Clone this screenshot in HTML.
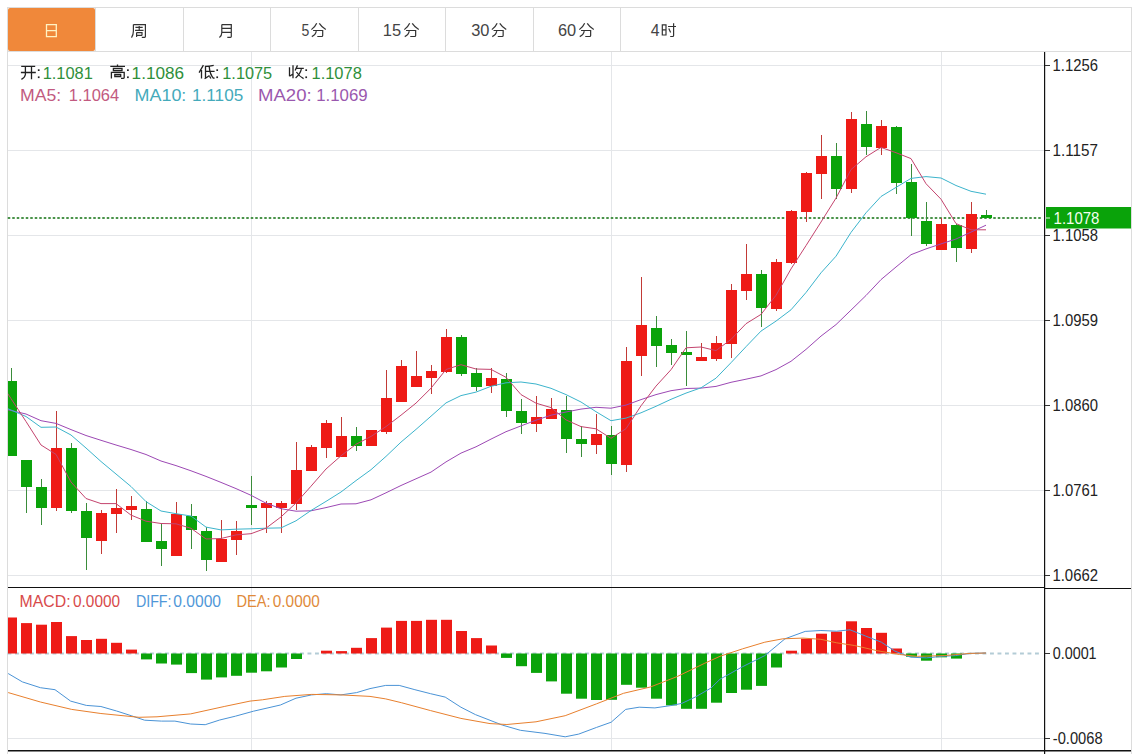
<!DOCTYPE html>
<html><head><meta charset="utf-8"><style>
html,body{margin:0;padding:0;background:#fff;width:1141px;height:754px;overflow:hidden;position:relative;font-family:"Liberation Sans",sans-serif;}
.frame{position:absolute;left:7px;top:7px;width:1125px;height:760px;border-left:1px solid #dcdcdc;border-right:1px solid #dcdcdc;border-top:1px solid #dcdcdc;box-sizing:border-box;}
.tabbar{position:absolute;left:7px;top:51px;width:1125px;height:1px;background:#dcdcdc;}
.tabon{position:absolute;left:8px;top:8px;width:87px;height:42.5px;background:#f0883a;border-radius:2px;}
.tdiv{position:absolute;top:8px;width:1px;height:43px;background:#dcdcdc;}
.inf{font-family:"Liberation Sans",sans-serif;font-size:16px;}
.tb{font-family:"Liberation Sans",sans-serif;font-size:16px;}
svg{position:absolute;left:0;top:0;}
.ax{font-family:"Liberation Sans",sans-serif;font-size:16.5px;}
</style></head><body>
<div class="frame"></div>
<div class="tabbar"></div>
<div class="tabon"></div><div class="tdiv" style="left:95.0px"></div><div class="tdiv" style="left:182.5px"></div><div class="tdiv" style="left:270.0px"></div><div class="tdiv" style="left:357.5px"></div><div class="tdiv" style="left:445.0px"></div><div class="tdiv" style="left:532.5px"></div><div class="tdiv" style="left:620.0px"></div>
<svg width="1141" height="754" viewBox="0 0 1141 754">
<defs><clipPath id="cm"><rect x="8" y="52" width="1036" height="535"/></clipPath><clipPath id="cb"><rect x="8" y="588" width="1036" height="162"/></clipPath></defs>
<line x1="8" y1="65.5" x2="1044" y2="65.5" stroke="#e4e6e9" stroke-width="1"/><line x1="8" y1="150.5" x2="1044" y2="150.5" stroke="#e4e6e9" stroke-width="1"/><line x1="8" y1="235.5" x2="1044" y2="235.5" stroke="#e4e6e9" stroke-width="1"/><line x1="8" y1="320.5" x2="1044" y2="320.5" stroke="#e4e6e9" stroke-width="1"/><line x1="8" y1="405.5" x2="1044" y2="405.5" stroke="#e4e6e9" stroke-width="1"/><line x1="8" y1="490.5" x2="1044" y2="490.5" stroke="#e4e6e9" stroke-width="1"/><line x1="8" y1="575.5" x2="1044" y2="575.5" stroke="#e4e6e9" stroke-width="1"/><line x1="8" y1="738.5" x2="1044" y2="738.5" stroke="#e4e6e9" stroke-width="1"/><line x1="251.5" y1="52" x2="251.5" y2="750" stroke="#e4e6e9" stroke-width="1"/><line x1="611.5" y1="52" x2="611.5" y2="750" stroke="#e4e6e9" stroke-width="1"/><line x1="941.5" y1="52" x2="941.5" y2="750" stroke="#e4e6e9" stroke-width="1"/><line x1="7.75" y1="218" x2="1041" y2="218" stroke="#4a934a" stroke-width="2" stroke-dasharray="2.5,2"/><g clip-path="url(#cm)"><rect x="11" y="368" width="1" height="88" fill="#3a8c3a"/><rect x="6" y="381" width="11" height="75" fill="#0aa30a"/><rect x="26" y="460" width="1" height="53" fill="#3a8c3a"/><rect x="21" y="460" width="11" height="27" fill="#0aa30a"/><rect x="41" y="479" width="1" height="46" fill="#3a8c3a"/><rect x="36" y="487" width="11" height="21" fill="#0aa30a"/><rect x="56" y="411" width="1" height="100" fill="#c23a36"/><rect x="51" y="448" width="11" height="60" fill="#ee1b16"/><rect x="71" y="443" width="1" height="70" fill="#3a8c3a"/><rect x="66" y="448" width="11" height="63" fill="#0aa30a"/><rect x="86" y="503" width="1" height="67" fill="#3a8c3a"/><rect x="81" y="511" width="11" height="27" fill="#0aa30a"/><rect x="101" y="510" width="1" height="44" fill="#c23a36"/><rect x="96" y="513" width="11" height="28" fill="#ee1b16"/><rect x="116" y="489" width="1" height="44" fill="#c23a36"/><rect x="111" y="508" width="11" height="6" fill="#ee1b16"/><rect x="131" y="496" width="1" height="24" fill="#c23a36"/><rect x="126" y="506" width="11" height="4" fill="#ee1b16"/><rect x="146" y="501" width="1" height="41" fill="#3a8c3a"/><rect x="141" y="509" width="11" height="33" fill="#0aa30a"/><rect x="161" y="524" width="1" height="42" fill="#3a8c3a"/><rect x="156" y="541" width="11" height="8" fill="#0aa30a"/><rect x="176" y="502" width="1" height="54" fill="#c23a36"/><rect x="171" y="514" width="11" height="42" fill="#ee1b16"/><rect x="191" y="504" width="1" height="45" fill="#3a8c3a"/><rect x="186" y="516" width="11" height="14" fill="#0aa30a"/><rect x="206" y="527" width="1" height="44" fill="#3a8c3a"/><rect x="201" y="531" width="11" height="29" fill="#0aa30a"/><rect x="221" y="520" width="1" height="42" fill="#c23a36"/><rect x="216" y="539" width="11" height="23" fill="#ee1b16"/><rect x="236" y="521" width="1" height="34" fill="#c23a36"/><rect x="231" y="531" width="11" height="9" fill="#ee1b16"/><rect x="251" y="476" width="1" height="49" fill="#3a8c3a"/><rect x="246" y="505" width="11" height="3" fill="#0aa30a"/><rect x="266" y="501" width="1" height="32" fill="#c23a36"/><rect x="261" y="503" width="11" height="5" fill="#ee1b16"/><rect x="281" y="501" width="1" height="32" fill="#c23a36"/><rect x="276" y="503" width="11" height="5" fill="#ee1b16"/><rect x="296" y="442" width="1" height="68" fill="#c23a36"/><rect x="291" y="470" width="11" height="34" fill="#ee1b16"/><rect x="311" y="445" width="1" height="26" fill="#c23a36"/><rect x="306" y="447" width="11" height="24" fill="#ee1b16"/><rect x="326" y="420" width="1" height="38" fill="#c23a36"/><rect x="321" y="423" width="11" height="25" fill="#ee1b16"/><rect x="341" y="417" width="1" height="40" fill="#c23a36"/><rect x="336" y="436" width="11" height="21" fill="#ee1b16"/><rect x="356" y="427" width="1" height="24" fill="#3a8c3a"/><rect x="351" y="436" width="11" height="10" fill="#0aa30a"/><rect x="371" y="430" width="1" height="16" fill="#c23a36"/><rect x="366" y="430" width="11" height="16" fill="#ee1b16"/><rect x="386" y="370" width="1" height="64" fill="#c23a36"/><rect x="381" y="398" width="11" height="34" fill="#ee1b16"/><rect x="401" y="360" width="1" height="42" fill="#c23a36"/><rect x="396" y="366" width="11" height="36" fill="#ee1b16"/><rect x="416" y="351" width="1" height="36" fill="#c23a36"/><rect x="411" y="376" width="11" height="11" fill="#ee1b16"/><rect x="431" y="365" width="1" height="29" fill="#c23a36"/><rect x="426" y="371" width="11" height="7" fill="#ee1b16"/><rect x="446" y="329" width="1" height="44" fill="#c23a36"/><rect x="441" y="337" width="11" height="35" fill="#ee1b16"/><rect x="461" y="335" width="1" height="41" fill="#3a8c3a"/><rect x="456" y="337" width="11" height="37" fill="#0aa30a"/><rect x="476" y="368" width="1" height="23" fill="#3a8c3a"/><rect x="471" y="373" width="11" height="14" fill="#0aa30a"/><rect x="491" y="368" width="1" height="25" fill="#c23a36"/><rect x="486" y="378" width="11" height="8" fill="#ee1b16"/><rect x="506" y="373" width="1" height="44" fill="#3a8c3a"/><rect x="501" y="379" width="11" height="32" fill="#0aa30a"/><rect x="521" y="399" width="1" height="35" fill="#3a8c3a"/><rect x="516" y="411" width="11" height="12" fill="#0aa30a"/><rect x="536" y="396" width="1" height="36" fill="#c23a36"/><rect x="531" y="417" width="11" height="7" fill="#ee1b16"/><rect x="551" y="398" width="1" height="21" fill="#c23a36"/><rect x="546" y="409" width="11" height="10" fill="#ee1b16"/><rect x="566" y="396" width="1" height="57" fill="#3a8c3a"/><rect x="561" y="410" width="11" height="29" fill="#0aa30a"/><rect x="581" y="426" width="1" height="31" fill="#3a8c3a"/><rect x="576" y="439" width="11" height="5" fill="#0aa30a"/><rect x="596" y="414" width="1" height="40" fill="#c23a36"/><rect x="591" y="434" width="11" height="11" fill="#ee1b16"/><rect x="611" y="426" width="1" height="49" fill="#3a8c3a"/><rect x="606" y="435" width="11" height="29" fill="#0aa30a"/><rect x="626" y="347" width="1" height="125" fill="#c23a36"/><rect x="621" y="361" width="11" height="104" fill="#ee1b16"/><rect x="641" y="277" width="1" height="99" fill="#c23a36"/><rect x="636" y="325" width="11" height="31" fill="#ee1b16"/><rect x="656" y="316" width="1" height="51" fill="#3a8c3a"/><rect x="651" y="328" width="11" height="18" fill="#0aa30a"/><rect x="671" y="339" width="1" height="26" fill="#3a8c3a"/><rect x="666" y="345" width="11" height="8" fill="#0aa30a"/><rect x="686" y="331" width="1" height="55" fill="#3a8c3a"/><rect x="681" y="352" width="11" height="3" fill="#0aa30a"/><rect x="701" y="343" width="1" height="18" fill="#c23a36"/><rect x="696" y="357" width="11" height="4" fill="#ee1b16"/><rect x="716" y="336" width="1" height="25" fill="#c23a36"/><rect x="711" y="343" width="11" height="16" fill="#ee1b16"/><rect x="731" y="284" width="1" height="74" fill="#c23a36"/><rect x="726" y="290" width="11" height="54" fill="#ee1b16"/><rect x="746" y="244" width="1" height="56" fill="#c23a36"/><rect x="741" y="274" width="11" height="17" fill="#ee1b16"/><rect x="761" y="270" width="1" height="57" fill="#3a8c3a"/><rect x="756" y="274" width="11" height="34" fill="#0aa30a"/><rect x="776" y="259" width="1" height="52" fill="#c23a36"/><rect x="771" y="262" width="11" height="47" fill="#ee1b16"/><rect x="791" y="210" width="1" height="54" fill="#c23a36"/><rect x="786" y="211" width="11" height="52" fill="#ee1b16"/><rect x="806" y="172" width="1" height="50" fill="#c23a36"/><rect x="801" y="173" width="11" height="39" fill="#ee1b16"/><rect x="821" y="135" width="1" height="64" fill="#c23a36"/><rect x="816" y="156" width="11" height="18" fill="#ee1b16"/><rect x="836" y="143" width="1" height="56" fill="#3a8c3a"/><rect x="831" y="156" width="11" height="33" fill="#0aa30a"/><rect x="851" y="112" width="1" height="81" fill="#c23a36"/><rect x="846" y="119" width="11" height="70" fill="#ee1b16"/><rect x="866" y="111" width="1" height="44" fill="#3a8c3a"/><rect x="861" y="124" width="11" height="23" fill="#0aa30a"/><rect x="881" y="120" width="1" height="35" fill="#c23a36"/><rect x="876" y="126" width="11" height="22" fill="#ee1b16"/><rect x="896" y="126" width="1" height="68" fill="#3a8c3a"/><rect x="891" y="127" width="11" height="56" fill="#0aa30a"/><rect x="911" y="164" width="1" height="72" fill="#3a8c3a"/><rect x="906" y="182" width="11" height="36" fill="#0aa30a"/><rect x="926" y="202" width="1" height="44" fill="#3a8c3a"/><rect x="921" y="221" width="11" height="23" fill="#0aa30a"/><rect x="941" y="218" width="1" height="32" fill="#c23a36"/><rect x="936" y="224" width="11" height="26" fill="#ee1b16"/><rect x="956" y="224" width="1" height="38" fill="#3a8c3a"/><rect x="951" y="225" width="11" height="23" fill="#0aa30a"/><rect x="971" y="202" width="1" height="51" fill="#c23a36"/><rect x="966" y="214" width="11" height="35" fill="#ee1b16"/><rect x="986" y="210" width="1" height="8" fill="#3a8c3a"/><rect x="981" y="215" width="11" height="3" fill="#0aa30a"/><polyline fill="none" stroke="#9c48b4" stroke-width="1" stroke-linejoin="round" points="-4,407 11,410.5 26,414 41,420.7 56,423.4 71,429.6 86,435.5 101,440.3 116,445 131,449.5 146,454.5 161,461 176,465.6 191,470.8 206,476.4 221,482.4 236,488.6 251,495.3 266,503.2 281,508.7 296,511.2 311,510.8 326,507.6 341,504 356,503.8 371,499.8 386,492.8 401,485.5 416,478.8 431,472.1 446,461.9 461,453.1 476,446.8 491,439.1 506,431.7 521,425.9 536,420.2 551,415.2 566,412 581,409.1 596,407.3 611,408.2 626,405.1 641,399.6 656,394.6 671,390.7 686,388.5 701,388.1 716,386.4 731,382.3 746,379.2 761,375.9 776,369.6 791,361.3 806,349.4 821,336.1 836,324.6 851,310.1 866,295.5 881,279.6 896,267 911,254.7 926,248.9 941,243.9 956,239 971,232.1 986,225.2"/><polyline fill="none" stroke="#3cb4cc" stroke-width="1" stroke-linejoin="round" points="-4,404 11,410 26,416.5 41,427.3 56,427 71,435 86,448 101,461.5 116,474 131,486.5 146,501.6 161,511 176,513.7 191,516 206,527.1 221,529.9 236,529.2 251,528.8 266,528.2 281,527.9 296,520.8 311,510.5 326,501.4 341,492 356,480.6 371,469.7 386,456.4 401,442.1 416,429.4 431,416.2 446,402.9 461,395.6 476,392.1 491,386.3 506,382.8 521,382 536,384 551,388.3 566,394.6 581,402 596,411.7 611,420.7 626,418.1 641,412.8 656,406.3 671,399.3 686,393.1 701,387.8 716,378.2 731,362.7 746,346.7 761,331.1 776,321.1 791,309.8 806,292.5 821,272.8 836,256.2 851,232.4 866,212.8 881,196.5 896,187.4 911,178.4 926,176.6 941,178 956,185.5 971,191.3 986,194.2"/><polyline fill="none" stroke="#c4446e" stroke-width="1" stroke-linejoin="round" points="-4,376 11,398.6 26,421.5 41,445 56,454.4 71,482 86,498.5 101,503.6 116,503.6 131,515.1 146,521.2 161,523.5 176,523.8 191,528.3 206,539 221,538.5 236,534.9 251,533.7 266,528.2 281,516.9 296,503 311,486.2 326,469 341,455.8 356,444.3 371,436.4 386,426.6 401,415.2 416,403.1 431,388.2 446,369.5 461,364.7 476,369 491,369.4 506,377.3 521,394.6 536,403.2 551,407.6 566,419.9 581,426.6 596,428.8 611,438.3 626,428.7 641,405.8 656,386.1 671,369.7 686,347.8 701,347 716,350.6 731,339.4 746,323.7 761,314.4 776,295.3 791,268.9 806,245.6 821,222 836,198.1 851,169.6 866,156.8 881,147.4 896,152.7 911,158.6 926,183.7 941,199.2 956,223.6 971,229.8 986,229.8"/></g><line x1="7.5" y1="653.6" x2="1040" y2="653.6" stroke="#b3ccd6" stroke-width="2" stroke-dasharray="3.9,3.6"/><g clip-path="url(#cb)"><rect x="6" y="617.5" width="11" height="36" fill="#ee1b16"/><rect x="21" y="623.1" width="11" height="30.4" fill="#ee1b16"/><rect x="36" y="624.7" width="11" height="28.8" fill="#ee1b16"/><rect x="51" y="622" width="11" height="31.5" fill="#ee1b16"/><rect x="66" y="636.1" width="11" height="17.4" fill="#ee1b16"/><rect x="81" y="640" width="11" height="13.5" fill="#ee1b16"/><rect x="96" y="638.8" width="11" height="14.7" fill="#ee1b16"/><rect x="111" y="642.8" width="11" height="10.7" fill="#ee1b16"/><rect x="126" y="649.6" width="11" height="3.9" fill="#ee1b16"/><rect x="141" y="653.5" width="11" height="5.9" fill="#0aa30a"/><rect x="156" y="653.5" width="11" height="10" fill="#0aa30a"/><rect x="171" y="653.5" width="11" height="11.1" fill="#0aa30a"/><rect x="186" y="653.5" width="11" height="19.6" fill="#0aa30a"/><rect x="201" y="653.5" width="11" height="26.1" fill="#0aa30a"/><rect x="216" y="653.5" width="11" height="23.9" fill="#0aa30a"/><rect x="231" y="653.5" width="11" height="22.3" fill="#0aa30a"/><rect x="246" y="653.5" width="11" height="19.2" fill="#0aa30a"/><rect x="261" y="653.5" width="11" height="17.8" fill="#0aa30a"/><rect x="276" y="653.5" width="11" height="14" fill="#0aa30a"/><rect x="291" y="653.5" width="11" height="5.5" fill="#0aa30a"/><rect x="321" y="650.7" width="11" height="2.8" fill="#ee1b16"/><rect x="336" y="651.1" width="11" height="2.4" fill="#ee1b16"/><rect x="351" y="647.8" width="11" height="5.7" fill="#ee1b16"/><rect x="366" y="638.1" width="11" height="15.4" fill="#ee1b16"/><rect x="381" y="627.6" width="11" height="25.9" fill="#ee1b16"/><rect x="396" y="620.9" width="11" height="32.6" fill="#ee1b16"/><rect x="411" y="620.9" width="11" height="32.6" fill="#ee1b16"/><rect x="426" y="619.8" width="11" height="33.7" fill="#ee1b16"/><rect x="441" y="619.8" width="11" height="33.7" fill="#ee1b16"/><rect x="456" y="631" width="11" height="22.5" fill="#ee1b16"/><rect x="471" y="638.1" width="11" height="15.4" fill="#ee1b16"/><rect x="486" y="645.5" width="11" height="8" fill="#ee1b16"/><rect x="501" y="653.5" width="11" height="4.4" fill="#0aa30a"/><rect x="516" y="653.5" width="11" height="12.7" fill="#0aa30a"/><rect x="531" y="653.5" width="11" height="19.4" fill="#0aa30a"/><rect x="546" y="653.5" width="11" height="27.9" fill="#0aa30a"/><rect x="561" y="653.5" width="11" height="40.2" fill="#0aa30a"/><rect x="576" y="653.5" width="11" height="45.2" fill="#0aa30a"/><rect x="591" y="653.5" width="11" height="46.5" fill="#0aa30a"/><rect x="606" y="653.5" width="11" height="46.3" fill="#0aa30a"/><rect x="621" y="653.5" width="11" height="31.3" fill="#0aa30a"/><rect x="636" y="653.5" width="11" height="34.2" fill="#0aa30a"/><rect x="651" y="653.5" width="11" height="45.2" fill="#0aa30a"/><rect x="666" y="653.5" width="11" height="51.9" fill="#0aa30a"/><rect x="681" y="653.5" width="11" height="55.3" fill="#0aa30a"/><rect x="696" y="653.5" width="11" height="55.3" fill="#0aa30a"/><rect x="711" y="653.5" width="11" height="49.2" fill="#0aa30a"/><rect x="726" y="653.5" width="11" height="39.5" fill="#0aa30a"/><rect x="741" y="653.5" width="11" height="36.2" fill="#0aa30a"/><rect x="756" y="653.5" width="11" height="32.4" fill="#0aa30a"/><rect x="771" y="653.5" width="11" height="14" fill="#0aa30a"/><rect x="786" y="650.7" width="11" height="2.8" fill="#ee1b16"/><rect x="801" y="638.8" width="11" height="14.7" fill="#ee1b16"/><rect x="816" y="633.7" width="11" height="19.8" fill="#ee1b16"/><rect x="831" y="631.6" width="11" height="21.9" fill="#ee1b16"/><rect x="846" y="621.3" width="11" height="32.2" fill="#ee1b16"/><rect x="861" y="628" width="11" height="25.5" fill="#ee1b16"/><rect x="876" y="632.8" width="11" height="20.7" fill="#ee1b16"/><rect x="891" y="648.5" width="11" height="5" fill="#ee1b16"/><rect x="906" y="653.5" width="11" height="3.2" fill="#0aa30a"/><rect x="921" y="653.5" width="11" height="7.2" fill="#0aa30a"/><rect x="936" y="653.5" width="11" height="3.8" fill="#0aa30a"/><rect x="951" y="653.5" width="11" height="5.1" fill="#0aa30a"/><polyline fill="none" stroke="#4a93d6" stroke-width="1" stroke-linejoin="round" points="-4,668 8.3,673.6 22.4,681.9 40.4,687.7 55,689.7 70.6,701.1 86.3,705.4 100.9,706.5 116.6,711 131.2,715.7 144.6,720.2 161.4,721.1 174.9,721.1 190.6,724 205.2,724.7 219.7,720 235.4,716.2 253.5,711.2 280.4,705 296,698.2 311.7,694.9 326.3,693.7 340.9,694.9 356.6,692.6 370,688.6 385.7,685.4 399.2,685.4 414.9,689.7 430.6,693.7 445.2,697.1 460.9,707.2 475.4,714.6 502.4,725.1 520.4,730.3 545,733.4 565.2,736.8 578.7,734.1 596.6,727.4 611.2,722.2 625.7,709.4 639.2,707.2 654.9,707.9 670.6,705.6 681.8,703.4 695.2,697.1 710.9,688.1 720,679.2 742.4,666.8 764.8,655.6 785,638.8 805.2,631.4 820.9,630.5 836.6,631.2 850,629.8 865.7,636.1 881.4,642.2 894.9,651.1 910.6,657.2 926.3,657.9 942,656.3 955.4,655.6 970,653.4 986,653"/><polyline fill="none" stroke="#e8802e" stroke-width="1" stroke-linejoin="round" points="-4,689 8.3,692.6 40.4,702 71.7,709.4 100.9,713.5 139,717.3 157,716.8 190.6,713.9 224.2,706.5 250,701.1 262.4,699.8 284.8,696.4 311.7,694.4 340.9,694.9 370,696.4 385.7,698.9 401.4,702.7 430.6,710.6 460.9,718.4 490,723.6 506.9,724.5 536,721.8 565.2,715.7 596.6,703.8 623.5,693.3 650.4,687 677.3,676.5 704.2,663.5 720,656.3 742.4,648.9 764.8,642.2 782.8,638.8 803,638.1 820.9,639.3 836.6,642.8 854.5,645.5 877,650.7 899.4,654.5 917.3,656.3 944.2,655.6 970,653.4 986,653"/></g><rect x="8" y="587" width="1036" height="1" fill="#111"/><rect x="1045" y="588" width="86" height="1" fill="#111"/><rect x="8" y="750" width="1123" height="1.5" fill="#111"/><rect x="1044" y="52" width="1.2" height="702" fill="#111"/><rect x="1045" y="65" width="5" height="1" fill="#333"/><rect x="1045" y="150" width="5" height="1" fill="#333"/><rect x="1045" y="235" width="5" height="1" fill="#333"/><rect x="1045" y="320" width="5" height="1" fill="#333"/><rect x="1045" y="405" width="5" height="1" fill="#333"/><rect x="1045" y="490" width="5" height="1" fill="#333"/><rect x="1045" y="575" width="5" height="1" fill="#333"/><rect x="1045" y="653" width="5" height="1" fill="#333"/><rect x="1045" y="738" width="5" height="1" fill="#333"/><rect x="1046" y="207" width="85" height="21.5" fill="#0aa30a"/><rect x="1046" y="217.5" width="4" height="1" fill="#dfffdf"/>
<path d="M46.5,24.6 H56.3 V36.6 H46.5 Z M46.5,30.6 H56.3" stroke="#fff3c4" stroke-width="1.3" fill="none"/><path d="M133.4,24.6 H145.4 V36.6 Q145.4,37.3 144.6,37.3 H141.8 M133.4,24.6 V31 Q133.4,35 131.5,37.7 M135.4,27.4 H142.7 M139.2,26 V30.4 M135.1,30.4 H143.5 M136.6,32.6 V37 M136.6,32.6 H142 V35.4 M136.6,35.4 H142" stroke="#333" stroke-width="1.2" fill="none"/><path d="M221.8,24.6 H231.3 V36.6 Q231.3,37.3 230.5,37.3 H227.3 M221.8,24.6 V32.5 Q221.8,35.8 219.4,37.4 M221.8,28.4 H231.3 M221.8,32.3 H231.3" stroke="#333" stroke-width="1.2" fill="none"/><path transform="translate(310.5,22)" d="M6.2,1.2 Q4.8,4.5 0.9,7.6 M8.8,1.3 Q11.3,5 15.3,7.6 M2.6,8.5 H12.2 V13.6 Q12.2,14.5 11.2,14.5 H6.8 M5.8,9.2 Q5.2,12.8 1.3,14.6" stroke="#333" stroke-width="1.2" fill="none"/><path transform="translate(403.45,22)" d="M6.2,1.2 Q4.8,4.5 0.9,7.6 M8.8,1.3 Q11.3,5 15.3,7.6 M2.6,8.5 H12.2 V13.6 Q12.2,14.5 11.2,14.5 H6.8 M5.8,9.2 Q5.2,12.8 1.3,14.6" stroke="#333" stroke-width="1.2" fill="none"/><path transform="translate(490.95,22)" d="M6.2,1.2 Q4.8,4.5 0.9,7.6 M8.8,1.3 Q11.3,5 15.3,7.6 M2.6,8.5 H12.2 V13.6 Q12.2,14.5 11.2,14.5 H6.8 M5.8,9.2 Q5.2,12.8 1.3,14.6" stroke="#333" stroke-width="1.2" fill="none"/><path transform="translate(578.45,22)" d="M6.2,1.2 Q4.8,4.5 0.9,7.6 M8.8,1.3 Q11.3,5 15.3,7.6 M2.6,8.5 H12.2 V13.6 Q12.2,14.5 11.2,14.5 H6.8 M5.8,9.2 Q5.2,12.8 1.3,14.6" stroke="#333" stroke-width="1.2" fill="none"/><path d="M662.3,24.8 H666 V35 H662.3 Z M662.3,29.8 H666 M668,26.5 H676 M673.6,23.2 V35.5 Q673.6,36.5 672.6,36.5 H670.2 M668.8,28.5 L670.6,32.6" stroke="#333" stroke-width="1.2" fill="none"/><path d="M21.2,66.4 H35.2 M20.9,72.5 H35.8 M25.4,66.4 V74.5 Q25,77.5 21.4,79.4 M31.5,66.4 V79.2" stroke="#222" stroke-width="1.3" fill="none"/><path d="M117.5,64.6 V66.4 M110.3,66.4 H125 M113.4,68.4 H122 V70.5 H113.4 Z M111.4,78.6 V72.3 H124.2 V77.6 Q124.2,78.3 123.4,78.3 H121 M114.8,74.5 H120.7 V76.5 H114.8 Z" stroke="#222" stroke-width="1.3" fill="none"/><path d="M203.4,65.2 L199.1,72.6 M201.5,70 V78.6 M213.7,65.3 Q209.5,66.2 205.5,66.4 V78.2 L204.6,78.7 M205.5,78.2 L209.5,75.5 M205.5,71.4 H214.6 M209.2,66.4 Q209.8,74.5 213.4,78.2 L214.6,78.2 M209.6,76.3 L210.9,78.5" stroke="#222" stroke-width="1.3" fill="none"/><path d="M289.5,67.3 V76.3 M293,65.3 V78.2 M289.5,76.3 L293,74 M297.5,65.4 L295.1,70.5 M296.1,68.4 H303.8 M301.4,69.2 Q300,74.5 295.6,77.9 M296.4,72 Q299.5,76.5 303.6,78.6" stroke="#222" stroke-width="1.3" fill="none"/><rect x="37.85" y="69.3" width="1.7" height="1.7" fill="#222"/><rect x="37.85" y="76.4" width="1.7" height="1.7" fill="#222"/><text id="o0" x="42.70" y="78.5" class="inf" fill="#2f8f3a" textLength="50.12" lengthAdjust="spacingAndGlyphs">1.1081</text><rect x="127.05" y="69.3" width="1.7" height="1.7" fill="#222"/><rect x="127.05" y="76.4" width="1.7" height="1.7" fill="#222"/><text id="o1" x="131.60" y="78.5" class="inf" fill="#2f8f3a" textLength="52.44" lengthAdjust="spacingAndGlyphs">1.1086</text><rect x="216.35" y="69.3" width="1.7" height="1.7" fill="#222"/><rect x="216.35" y="76.4" width="1.7" height="1.7" fill="#222"/><text id="o2" x="222.30" y="78.5" class="inf" fill="#2f8f3a" textLength="49.90" lengthAdjust="spacingAndGlyphs">1.1075</text><rect x="305.35" y="69.3" width="1.7" height="1.7" fill="#222"/><rect x="305.35" y="76.4" width="1.7" height="1.7" fill="#222"/><text id="o3" x="311.50" y="78.5" class="inf" fill="#2f8f3a" textLength="50.29" lengthAdjust="spacingAndGlyphs">1.1078</text><text id="m5a" x="20.10" y="101" class="inf" fill="#c25a80" textLength="41.15" lengthAdjust="spacingAndGlyphs">MA5:</text><text id="m5b" x="68.80" y="101" class="inf" fill="#c25a80" textLength="50.37" lengthAdjust="spacingAndGlyphs">1.1064</text><text id="m10a" x="134.60" y="101" class="inf" fill="#44aabb" textLength="51.75" lengthAdjust="spacingAndGlyphs">MA10:</text><text id="m10b" x="192.10" y="101" class="inf" fill="#44aabb" textLength="51.09" lengthAdjust="spacingAndGlyphs">1.1105</text><text id="m20a" x="258.00" y="101" class="inf" fill="#9a58ae" textLength="53.61" lengthAdjust="spacingAndGlyphs">MA20:</text><text id="m20b" x="316.20" y="101" class="inf" fill="#9a58ae" textLength="51.41" lengthAdjust="spacingAndGlyphs">1.1069</text><text id="mda" x="19.60" y="606.5" class="inf" fill="#d84a4a" textLength="51.03" lengthAdjust="spacingAndGlyphs">MACD:</text><text id="mdb" x="73.00" y="606.5" class="inf" fill="#d84a4a" textLength="47.09" lengthAdjust="spacingAndGlyphs">0.0000</text><text id="dfa" x="135.90" y="606.5" class="inf" fill="#4f97d8" textLength="35.61" lengthAdjust="spacingAndGlyphs">DIFF:</text><text id="dfb" x="173.30" y="606.5" class="inf" fill="#4f97d8" textLength="47.68" lengthAdjust="spacingAndGlyphs">0.0000</text><text id="dea" x="236.50" y="606.5" class="inf" fill="#e08a3a" textLength="34.13" lengthAdjust="spacingAndGlyphs">DEA:</text><text id="deb" x="272.80" y="606.5" class="inf" fill="#e08a3a" textLength="46.99" lengthAdjust="spacingAndGlyphs">0.0000</text><text id="a0" x="1052.50" y="70.5" class="ax" fill="#222" textLength="45.39" lengthAdjust="spacingAndGlyphs">1.1256</text><text id="a1" x="1052.50" y="155.5" class="ax" fill="#222" textLength="45.42" lengthAdjust="spacingAndGlyphs">1.1157</text><text id="a2" x="1052.50" y="240.5" class="ax" fill="#222" textLength="45.39" lengthAdjust="spacingAndGlyphs">1.1058</text><text id="a3" x="1052.50" y="325.5" class="ax" fill="#222" textLength="45.39" lengthAdjust="spacingAndGlyphs">1.0959</text><text id="a4" x="1052.50" y="410.5" class="ax" fill="#222" textLength="45.39" lengthAdjust="spacingAndGlyphs">1.0860</text><text id="a5" x="1052.50" y="495.5" class="ax" fill="#222" textLength="45.39" lengthAdjust="spacingAndGlyphs">1.0761</text><text id="a6" x="1052.40" y="580.5" class="ax" fill="#222" textLength="45.63" lengthAdjust="spacingAndGlyphs">1.0662</text><text id="a7" x="1052.70" y="658.5" class="ax" fill="#222" textLength="43.91" lengthAdjust="spacingAndGlyphs">0.0001</text><text id="a8" x="1052.80" y="743.5" class="ax" fill="#222" textLength="49.78" lengthAdjust="spacingAndGlyphs">-0.0068</text><text id="lp" x="1053.60" y="223.5" class="ax" fill="#f4fff0" textLength="45.86" lengthAdjust="spacingAndGlyphs">1.1078</text><text id="t5" x="301.60" y="36" class="tb" fill="#444" textLength="7.81" lengthAdjust="spacingAndGlyphs">5</text><text id="t15" x="382.80" y="36" class="tb" fill="#444" textLength="18.32" lengthAdjust="spacingAndGlyphs">15</text><text id="t30" x="471.20" y="36" class="tb" fill="#444" textLength="18.25" lengthAdjust="spacingAndGlyphs">30</text><text id="t60" x="558.00" y="36" class="tb" fill="#444" textLength="18.19" lengthAdjust="spacingAndGlyphs">60</text><text id="t4" x="650.80" y="36" class="tb" fill="#444" textLength="8.76" lengthAdjust="spacingAndGlyphs">4</text>
</svg>
</body></html>
